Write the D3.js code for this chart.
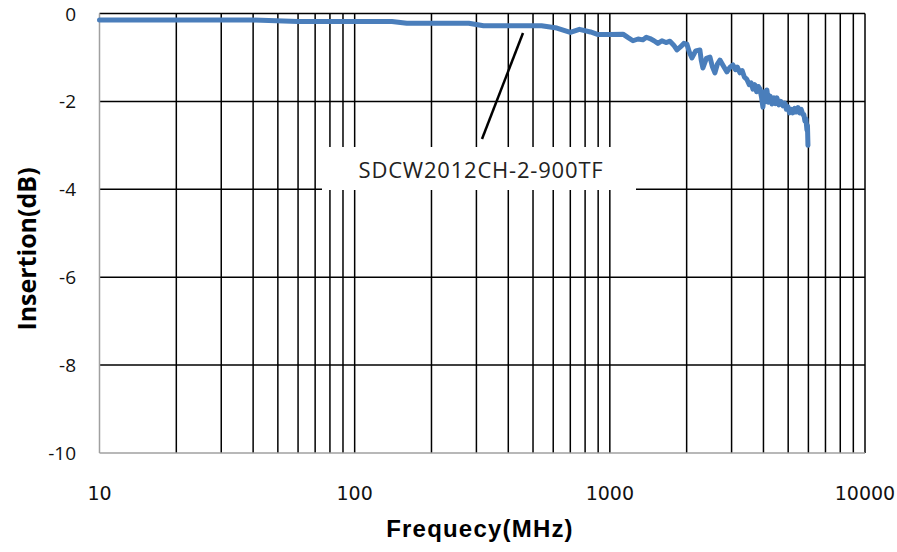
<!DOCTYPE html>
<html><head><meta charset="utf-8">
<script src="https://cdn.jsdelivr.net/npm/d3@7"></script>
<style>body{margin:0;background:#fff}svg{display:block}</style>
</head><body>
<svg id="c" width="897" height="552"></svg>
<script>
const freqMHz = [10,40,60,100,140,160,280,320,540,620,700,760,840,900,1000,
  1126,1180,1232,1290,1348,1390,1436,1490,1543,1600,1660,1720,1780,1832,1900,1950,2005,2050,2098,2170,2254,2280,2316,2390,2468,2520,2581,2640,2701,2790,2877,2960,
  3037,3110,3160,3235,3300,3370,3445,3520,3580,3637,3700,3760,3820,3874,3930,3981,4030,4080,4127,4180,4250,4318,4400,4460,4517,4600,4680,4768,4850,4920,4988,5060,5140,5218,5300,5380,5460,5540,5620,5711,5760,5815,5870,5922,5950,5976];
const insertionDb = [-0.15,-0.15,-0.18,-0.18,-0.18,-0.22,-0.22,-0.28,-0.28,-0.33,-0.43,-0.36,-0.42,-0.48,-0.48,
  -0.47,-0.55,-0.62,-0.58,-0.60,-0.54,-0.57,-0.62,-0.68,-0.62,-0.66,-0.63,-0.72,-0.83,-0.75,-0.68,-0.70,-0.88,-1.01,-0.85,-0.83,-1.05,-1.24,-1.02,-0.99,-1.20,-1.35,-1.15,-1.06,-1.20,-1.33,-1.22,
  -1.17,-1.28,-1.22,-1.35,-1.30,-1.45,-1.50,-1.62,-1.58,-1.72,-1.62,-1.78,-1.66,-1.72,-1.90,-2.13,-1.78,-2.00,-1.74,-2.02,-1.88,-2.06,-1.92,-2.05,-1.92,-2.08,-2.00,-2.10,-2.04,-2.18,-2.12,-2.26,-2.18,-2.26,-2.16,-2.24,-2.14,-2.26,-2.18,-2.30,-2.30,-2.45,-2.40,-2.65,-2.55,-3.00];
const xTickLabels = [10,100,1000,10000];
const yTickLabels = [0,-2,-4,-6,-8,-10];
const seriesName = "SDCW2012CH-2-900TF";
const xTitle = "Frequecy(MHz)";
const yTitle = "Insertion(dB)";

const svg = d3.select("#c");
const L=99.5, R=865, T=13.5, B=453;
const x = d3.scaleLog().domain([10,10000]).range([L,R]);
const y = d3.scaleLinear().domain([-10,0]).range([B,T]);

const vlines = [];
for (let d=10; d<10000; d*=10) for (let k=1;k<=9;k++) vlines.push(d*k);
vlines.push(10000);
svg.append("g").selectAll("line").data(vlines.filter(v=>v>10)).join("line")
  .attr("x1",d=>x(d)).attr("x2",d=>x(d)).attr("y1",T).attr("y2",B)
  .attr("stroke","#000").attr("stroke-width",1.5);
svg.append("g").selectAll("line").data(yTickLabels.filter(v=>v>-10)).join("line")
  .attr("x1",L).attr("x2",R).attr("y1",d=>y(d)).attr("y2",d=>y(d))
  .attr("stroke","#000").attr("stroke-width",1.5);
svg.append("line").attr("x1",L).attr("x2",L).attr("y1",T).attr("y2",B).attr("stroke","#a0a0a0").attr("stroke-width",1.5);
svg.append("line").attr("x1",L).attr("x2",R).attr("y1",B).attr("y2",B).attr("stroke","#a0a0a0").attr("stroke-width",1.5);

svg.append("g").selectAll("text").data(yTickLabels).join("text")
  .attr("x",76).attr("y",d=>y(d)+7).attr("text-anchor","end")
  .attr("font-family","Open Sans, sans-serif").attr("font-size",19).attr("fill","#111")
  .text(d=>d);
svg.append("g").selectAll("text").data(xTickLabels).join("text")
  .attr("x",d=>x(d)).attr("y",500).attr("text-anchor","middle")
  .attr("font-family","DejaVu Sans, sans-serif").attr("font-size",19).attr("fill","#111")
  .text(d=>d);

svg.append("text").attr("x",480).attr("y",537).attr("text-anchor","middle")
  .attr("font-family","Liberation Sans, Arial, sans-serif").attr("font-weight","bold").attr("font-size",24)
  .attr("letter-spacing",1.2)
  .text(xTitle);
svg.append("text").attr("transform","translate(36,249) rotate(-90)").attr("text-anchor","middle")
  .attr("font-family","Open Sans, sans-serif").attr("font-weight","bold").attr("font-size",25)
  .text(yTitle);

const line = d3.line().x((d,i)=>x(freqMHz[i])).y(d=>y(d));
svg.append("path").datum(insertionDb).attr("d",line)
  .attr("fill","none").attr("stroke","#4a7ebb").attr("stroke-width",5)
  .attr("stroke-linejoin","round").attr("stroke-linecap","round");

svg.append("rect").attr("x",322).attr("y",147).attr("width",314).attr("height",43).attr("fill","#fff");
svg.append("line").attr("x1",482).attr("y1",139).attr("x2",523).attr("y2",33).attr("stroke","#000").attr("stroke-width",2.5);
svg.append("text").attr("x",481).attr("y",178).attr("text-anchor","middle")
  .attr("font-family","Open Sans, sans-serif").attr("font-size",22).attr("letter-spacing",0.8).attr("fill","#222")
  .text(seriesName);
</script>
</body></html>
